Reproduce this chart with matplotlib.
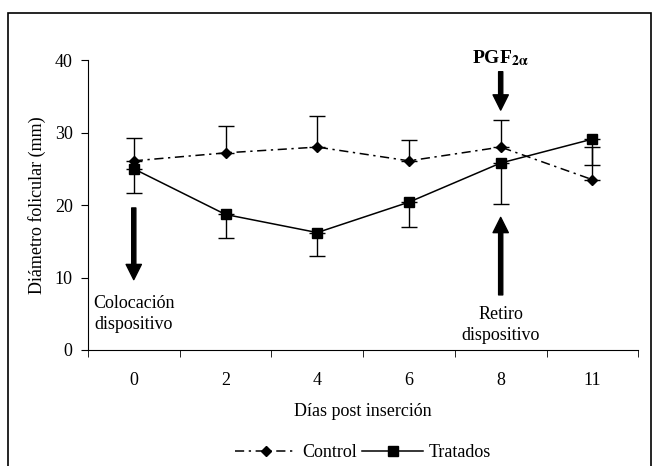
import matplotlib
matplotlib.use("Agg")
import matplotlib.pyplot as plt
from matplotlib.patches import Rectangle

# datos
dias = ["0", "2", "4", "6", "8", "11"]
control = [26.1, 27.2, 28.0, 26.1, 28.0, 23.5]
control_err = [3.2, 3.7, 4.3, 2.9, 3.8, 4.5]      # solo hacia arriba
tratados = [25.0, 18.7, 16.2, 20.4, 25.8, 29.1]
tratados_err = [3.4, 3.3, 3.3, 3.4, 5.7, 3.6]     # solo hacia abajo

plt.rcParams["font.family"] = ["Liberation Serif", "DejaVu Serif"]
plt.rcParams["font.size"] = 13
plt.rcParams["mathtext.fontset"] = "stix"

fig = plt.figure(figsize=(6.56, 4.66), dpi=100)
ax = fig.add_axes([0.134, 0.249, 0.839, 0.622])

x = list(range(len(dias)))

ax.errorbar(x, control, yerr=[[0] * len(x), control_err], fmt="none",
            ecolor="black", elinewidth=1, capsize=6, capthick=1)
ax.errorbar(x, tratados, yerr=[tratados_err, [0] * len(x)], fmt="none",
            ecolor="black", elinewidth=1, capsize=6, capthick=1)

ax.plot(x, control, color="black", lw=1.1, dashes=(6, 3, 1.5, 3),
        marker="D", ms=5.5, mfc="black", mec="black", label="Control")
ax.plot(x, tratados, color="black", lw=1.1, ls="-",
        marker="s", ms=6.5, mfc="black", mec="black", label="Tratados")

ax.set_xlim(-0.5, len(dias) - 0.5)
ax.set_ylim(0, 40)
ax.set_yticks([0, 10, 20, 30, 40])
ax.set_xticks(x)
ax.set_xticklabels(dias)
ax.set_xticks([i - 0.5 for i in range(len(dias) + 1)], minor=True)
ax.tick_params(axis="x", which="major", length=0, pad=16)
ax.tick_params(axis="x", which="minor", length=5, direction="out")
ax.tick_params(axis="y", length=5, direction="out", pad=6)
for s in ["top", "right"]:
    ax.spines[s].set_visible(False)

ax.set_xlabel("Días post inserción", labelpad=10)
ax.set_ylabel("Diámetro folicular (mm)", labelpad=6)

# flechas
flecha = dict(facecolor="black", edgecolor="black", width=3, headwidth=11, headlength=11)
ax.annotate("", xy=(0, 9.7), xytext=(0, 19.6), arrowprops=flecha)
ax.annotate("", xy=(4, 18.3), xytext=(4, 7.6), arrowprops=flecha)
ax.annotate("", xy=(4, 33.1), xytext=(4, 38.4), arrowprops=flecha)

ax.text(0, 5.0, "Colocación\ndispositivo", ha="center", va="center", linespacing=1.3)
ax.text(4, 3.5, "Retiro\ndispositivo", ha="center", va="center", linespacing=1.3)
ax.text(4, 40.3, r"PGF$_{\mathbf{2\alpha}}$", ha="center", va="center",
        fontweight="bold", fontsize=14)

leg = ax.legend(loc="upper center", bbox_to_anchor=(0.5, -0.27), ncol=2,
                frameon=False, handlelength=3.4, columnspacing=0.3, handletextpad=0.3)

# marco exterior
fig.patches.append(Rectangle((0.012, -0.05), 0.98, 1.022, transform=fig.transFigure,
                             fill=False, edgecolor="black", lw=1.2))

fig.savefig("out.png", dpi=100)
